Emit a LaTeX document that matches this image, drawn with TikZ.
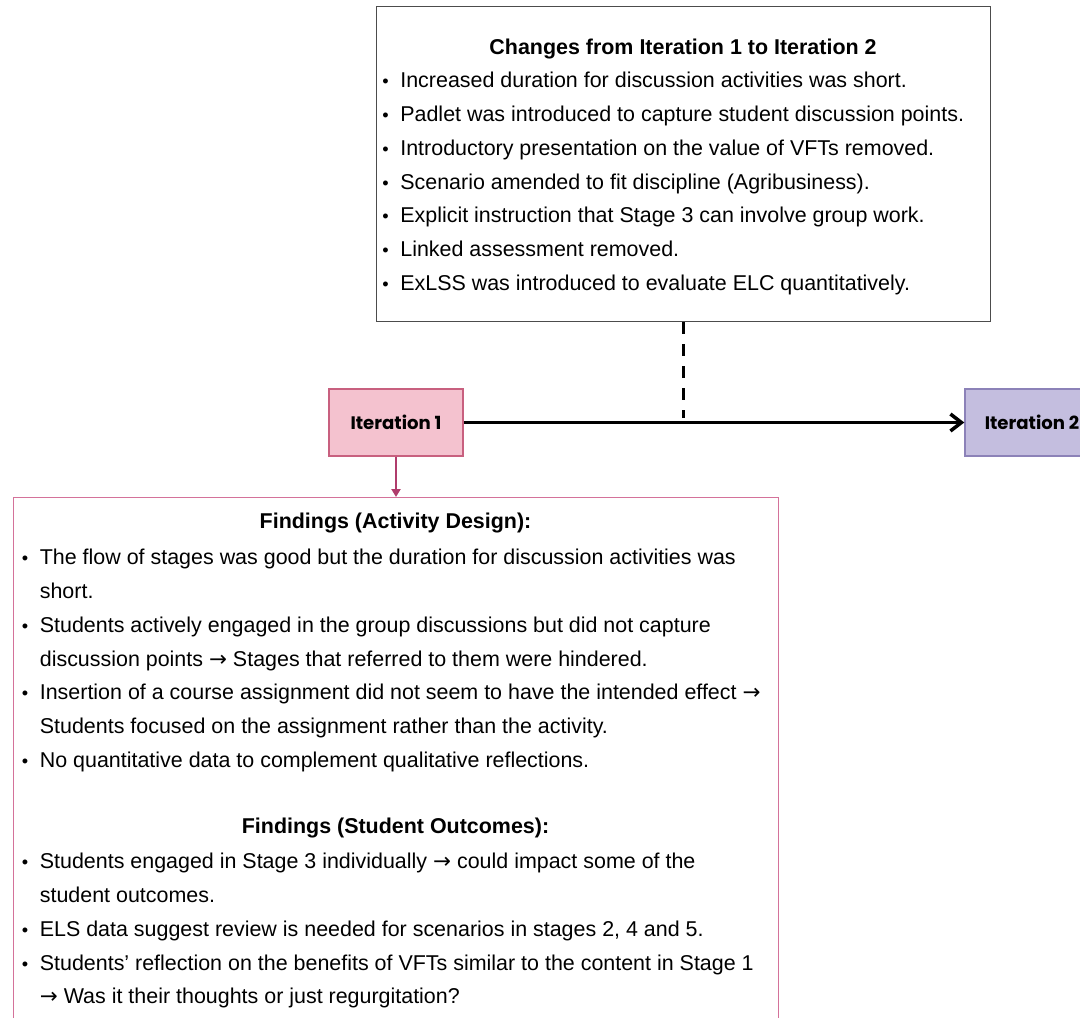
\documentclass[tikz,border=0pt]{standalone}
\usepackage{fontspec}
\setmainfont{Liberation Sans}
\newfontfamily\itfont{Poppins}
\newfontfamily\arrfont{DejaVu Sans}
\usetikzlibrary{arrows.meta}
\definecolor{itonefill}{HTML}{F4C2CF}
\definecolor{itonedraw}{HTML}{C8607F}
\definecolor{ittwofill}{HTML}{C4BEDF}
\definecolor{ittwodraw}{HTML}{8C82B8}
\definecolor{fnddraw}{HTML}{D4729A}
\definecolor{downarr}{HTML}{B03C6C}
\newcommand{\bul}{\makebox[0.36cm][l]{\scalebox{0.85}{\textbullet}}}
\newcommand{\ind}{\hspace*{0.36cm}}
\newcommand{\arr}{{\arrfont →}}

\begin{document}
\begin{tikzpicture}[>={Straight Barb[length=2.2mm,width=3.4mm]},
  txt/.style={font=\fontsize{12.2}{19.2}\selectfont,inner sep=0pt,align=left,anchor=north west},
  ttl/.style={font=\fontsize{12.2}{14}\selectfont\bfseries,inner sep=0pt},
  itbox/.style={minimum width=2.68cm,minimum height=1.34cm,inner sep=0pt,line width=0.8pt,
    font=\itfont\bfseries\fontsize{10.3}{12}\selectfont}]
\clip (0,0) rectangle (21.6,-20.34);
% changes box
\node[draw=black!70,line width=0.8pt,minimum width=12.28cm,minimum height=6.3cm,anchor=north west] (chg) at (7.52,-0.12) {};
\node[ttl] (chgtitle) at (13.66,-0.98) {Changes from Iteration 1 to Iteration 2};
\node[txt] (chglist) at (7.64,-1.44) {\bul Increased duration for discussion activities was short.\\
\bul Padlet was introduced to capture student discussion points.\\
\bul Introductory presentation on the value of VFTs removed.\\
\bul Scenario amended to fit discipline (Agribusiness).\\
\bul Explicit instruction that Stage 3 can involve group work.\\
\bul Linked assessment removed.\\
\bul ExLSS was introduced to evaluate ELC quantitatively.};
% iterations
\node[itbox,draw=itonedraw,fill=itonefill] (it1) at (7.92,-8.45) {Iteration 1};
\node[itbox,draw=ittwodraw,fill=ittwofill] (it2) at (20.64,-8.45) {Iteration 2};
\draw[->,line width=2pt] (it1) -- (it2);
\coordinate (mid) at (chg.south |- it1.east);
\draw[line width=2pt,dash pattern=on 0.24cm off 0.2cm] (chg.south) -- ([yshift=1mm]mid);
% findings box
\node[draw=fnddraw,line width=0.8pt,minimum width=15.3cm,minimum height=12cm,anchor=north west] (fnd) at (0.26,-9.94) {};
\draw[-{Triangle[length=1.6mm,width=1.8mm]},draw=downarr,fill=downarr,line width=1.2pt] (it1) -- (fnd.north -| it1);
\node[ttl] (fndtitlea) at (7.91,-10.46) {Findings (Activity Design):};
\node[txt] (fndlista) at (0.43,-10.98) {\bul The flow of stages was good but the duration for discussion activities was\\
\ind short.\\
\bul Students actively engaged in the group discussions but did not capture\\
\ind discussion points \arr{} Stages that referred to them were hindered.\\
\bul Insertion of a course assignment did not seem to have the intended effect \arr\\
\ind Students focused on the assignment rather than the activity.\\
\bul No quantitative data to complement qualitative reflections.};
\node[ttl] (fndtitleb) at (7.91,-16.56) {Findings (Student Outcomes):};
\node[txt] (fndlistb) at (0.43,-17.06) {\bul Students engaged in Stage 3 individually \arr{} could impact some of the\\
\ind student outcomes.\\
\bul ELS data suggest review is needed for scenarios in stages 2, 4 and 5.\\
\bul Students’ reflection on the benefits of VFTs similar to the content in Stage 1\\
\ind \arr{} Was it their thoughts or just regurgitation?};
\end{tikzpicture}
\end{document}
